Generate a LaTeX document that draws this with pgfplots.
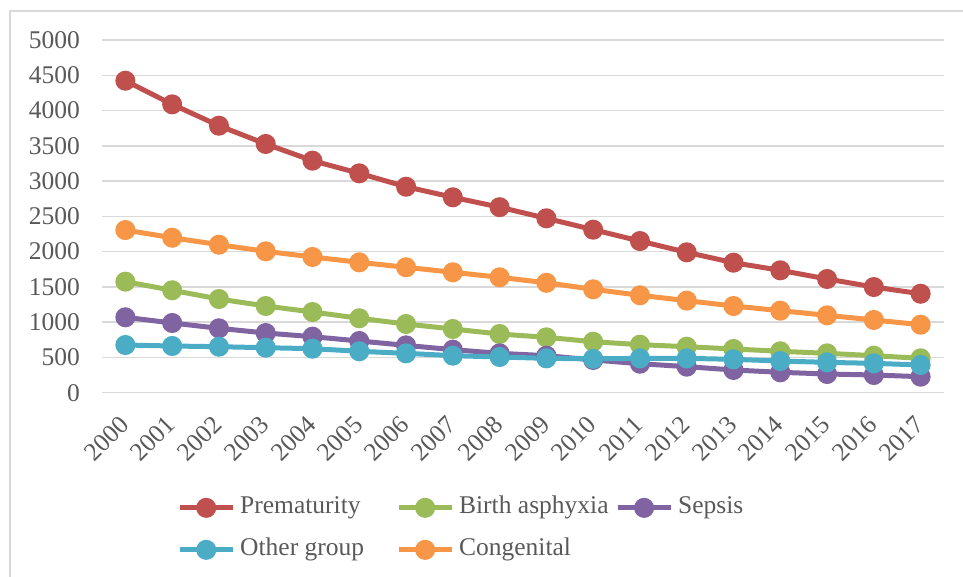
\documentclass[border=0pt]{standalone}
\usepackage{pgfplots}
\pgfplotsset{compat=1.18}
\usepackage{fontspec}
\setmainfont{Liberation Serif}

\definecolor{premat}{HTML}{C0504D}
\definecolor{asphyx}{HTML}{9BBB59}
\definecolor{sepsis}{HTML}{8064A2}
\definecolor{othergrp}{HTML}{4BACC6}
\definecolor{congen}{HTML}{F79646}
\definecolor{gridgray}{HTML}{D9D9D9}
\definecolor{txtgray}{HTML}{595959}

\begin{document}
\begin{tikzpicture}
\path[use as bounding box] (0bp,0bp) rectangle (963bp,577bp);
\draw[gridgray, line width=2bp] (10bp,0bp) -- (10bp,566bp) -- (963bp,566bp);
\begin{axis}[
    at={(102bp,184.3bp)}, anchor=south west,
    scale only axis,
    width=842bp, height=352.7bp,
    xmin=1999.5, xmax=2017.5,
    ymin=0, ymax=5000,
    xtick={2000,...,2017},
    ytick={0,500,...,5000},
    scaled y ticks=false,
    /pgf/number format/set thousands separator={},
    /pgf/number format/assume math mode=true,
    axis line style={draw=none},
    major tick length=0pt,
    ymajorgrids,
    major grid style={draw=gridgray, line width=1.5bp},
    tick label style={font=\fontsize{25.5bp}{28bp}\selectfont, text=txtgray},
    yticklabel style={inner sep=0pt, xshift=-22bp},
    xticklabel style={yshift=-28bp, xshift=-1bp, rotate=45, anchor=east, inner sep=0pt},
    clip=false,
    every axis plot/.append style={line width=5bp, mark=*, mark size=7.5bp},
    legend image code/.code={\draw[mark repeat=2, mark phase=2, #1] plot coordinates {(0bp,0bp) (26.5bp,0bp) (53bp,0bp)};},
    legend columns=3,
    legend style={
        at={(0.0891,-0.386)}, anchor=west, draw=none, fill=none, inner sep=0pt,
        font=\fontsize{25.5bp}{28bp}\selectfont, text=txtgray,
        row sep=20bp,
        nodes={inner sep=0pt, text height=17bp, text depth=5bp},
        /tikz/column 1/.style={column sep=5bp},
        /tikz/column 2/.style={column sep=32bp},
        /tikz/column 3/.style={column sep=5bp},
        /tikz/column 4/.style={column sep=6.5bp},
        /tikz/column 5/.style={column sep=5bp},
    },
    legend cell align=left,
]
\addplot[premat, mark options={fill=premat}] coordinates {
(2000,4423) (2001,4088) (2002,3785) (2003,3526) (2004,3289) (2005,3110)
(2006,2920) (2007,2770) (2008,2630) (2009,2472) (2010,2311) (2011,2150)
(2012,1990) (2013,1843) (2014,1735) (2015,1612) (2016,1498) (2017,1403)
};
\addplot[asphyx, mark options={fill=asphyx}] coordinates {
(2000,1574) (2001,1452) (2002,1328) (2003,1229) (2004,1144) (2005,1055)
(2006,974) (2007,903) (2008,832) (2009,785) (2010,723) (2011,681)
(2012,652) (2013,620) (2014,587) (2015,558) (2016,525) (2017,487)
};
\addplot[sepsis, mark options={fill=sepsis}] coordinates {
(2000,1069) (2001,988) (2002,913) (2003,846) (2004,794) (2005,733)
(2006,671) (2007,610) (2008,558) (2009,525) (2010,464) (2011,411)
(2012,369) (2013,322) (2014,289) (2015,265) (2016,251) (2017,227)
};
\addplot[othergrp, mark options={fill=othergrp}] coordinates {
(2000,676) (2001,662) (2002,652) (2003,638) (2004,624) (2005,587)
(2006,558) (2007,525) (2008,506) (2009,487) (2010,480) (2011,487)
(2012,487) (2013,473) (2014,449) (2015,430) (2016,416) (2017,393)
};
\addplot[congen, mark options={fill=congen}] coordinates {
(2000,2306) (2001,2197) (2002,2098) (2003,2004) (2004,1924) (2005,1848)
(2006,1778) (2007,1707) (2008,1636) (2009,1558) (2010,1466) (2011,1381)
(2012,1305) (2013,1229) (2014,1163) (2015,1097) (2016,1031) (2017,964)
};
\legend{Prematurity, Birth asphyxia, Sepsis, Other group, Congenital}
\end{axis}
\end{tikzpicture}
\end{document}
